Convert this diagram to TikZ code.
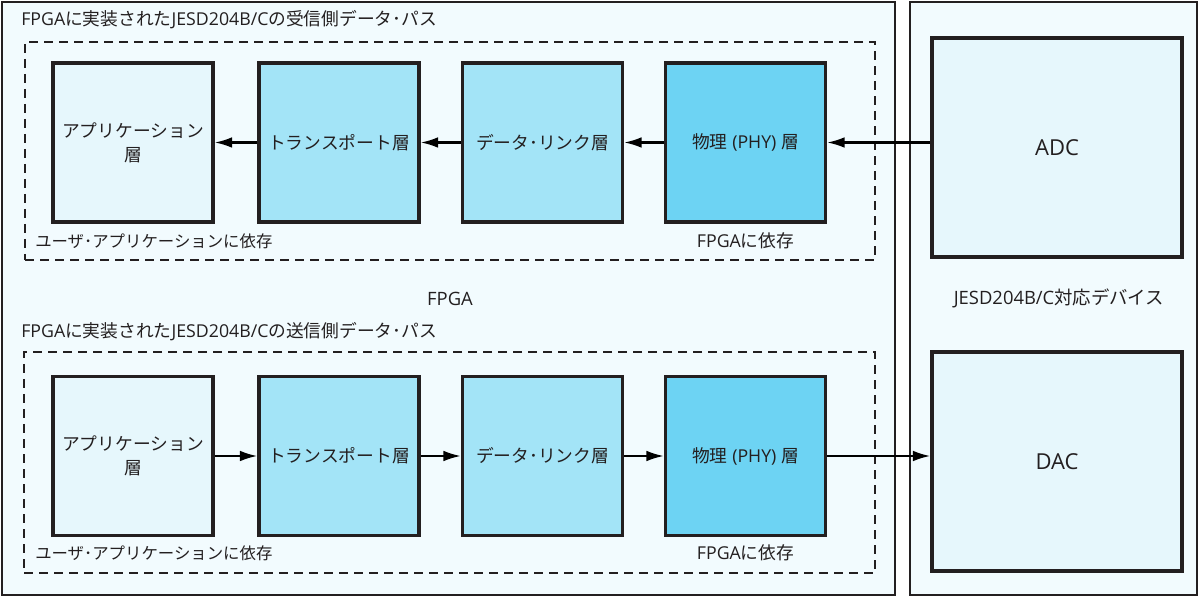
\documentclass[tikz,border=0pt]{standalone}
\usepackage{fontspec}
\setmainfont{Noto Sans CJK JP}
\newfontfamily\latf{Open Sans}
\newcommand{\en}[1]{{\latf #1}}
\usetikzlibrary{arrows.meta}
\definecolor{bgpale}{HTML}{F2FBFE}
\definecolor{apppale}{HTML}{E6F7FC}
\definecolor{midblue}{HTML}{A3E4F7}
\definecolor{phyblue}{HTML}{6DD3F3}
\definecolor{linegray}{HTML}{231F20}
\tikzset{
  frame/.style={draw=linegray, line width=2.2pt, fill=bgpale, inner sep=0pt},
  dashbox/.style={draw=linegray, line width=2pt, dash pattern=on 6.75pt off 4.5pt, inner sep=0pt},
  layerbox/.style={draw=linegray, line width=2.6pt, minimum width=120pt, minimum height=119pt, inner sep=0pt, align=center, text=linegray, font=\fontsize{13.3}{18}\selectfont},
  devbox/.style={draw=linegray, line width=2.6pt, fill=apppale, minimum width=187.5pt, minimum height=164pt, inner sep=0pt, text=linegray, font=\fontsize{16.5}{18}\selectfont},
  lbl/.style={inner sep=0pt, text=linegray, font=\fontsize{13.3}{16}\selectfont},
  userlbl/.style={inner sep=0pt, text=linegray, font=\fontsize{12.3}{16}\selectfont},
  biglbl/.style={inner sep=0pt, text=linegray, font=\fontsize{13.8}{16}\selectfont},
  conn/.style={draw=black, line width=1.6pt, -{Latex[length=13pt,width=8pt]}}
}
\begin{document}
\begin{tikzpicture}[x=0.75pt,y=-0.75pt]
\useasboundingbox (0,0) rectangle (1200,598);
% outer frames
\node[frame, minimum width=669.75pt, minimum height=444.75pt] (fpga) at (448.5,298.5) {};
\node[frame, minimum width=215.25pt, minimum height=444.75pt] (dev) at (1053.5,298.5) {};
% dashed groups
\node[dashbox, minimum width=637.5pt, minimum height=163.5pt] (rxgrp) at (450,151) {};
\node[dashbox, minimum width=638.25pt, minimum height=165.75pt] (txgrp) at (449.5,462.5) {};
% labels
\node[lbl, anchor=west] (rxtitle) at (21,20) {\en{FPGA}に実装された\en{JESD204B/C}の受信側データ･パス};
\node[lbl, anchor=west] (txtitle) at (21,332) {\en{FPGA}に実装された\en{JESD204B/C}の送信側データ･パス};
\node[biglbl] (fpgalbl) at (450,299) {\en{FPGA}};
\node[biglbl] (devlbl) at (1059,298) {\en{JESD204B/C}対応デバイス};
\node[userlbl, anchor=west] (rxuser) at (35,241) {ユーザ･アプリケーションに依存};
\node[userlbl, anchor=west] (txuser) at (35,553) {ユーザ･アプリケーションに依存};
\node[lbl] (rxdep) at (745.5,241) {\en{FPGA}に依存};
\node[lbl] (txdep) at (745.5,553) {\en{FPGA}に依存};
% receive row
\node[layerbox, fill=apppale] (rxapp) at (133,142.5) {アプリケーション\\層};
\node[layerbox, fill=midblue] (rxtr) at (339,142.5) {トランスポート層};
\node[layerbox, fill=midblue] (rxdl) at (542.5,142.5) {データ･リンク層};
\node[layerbox, fill=phyblue] (rxphy) at (745.5,142.5) {物理\en{ (PHY) }層};
% transmit row
\node[layerbox, fill=apppale] (txapp) at (133,456) {アプリケーション\\層};
\node[layerbox, fill=midblue] (txtr) at (339,456) {トランスポート層};
\node[layerbox, fill=midblue] (txdl) at (542.5,456) {データ･リンク層};
\node[layerbox, fill=phyblue] (txphy) at (745.5,456) {物理\en{ (PHY) }層};
% devices
\node[devbox] (adc) at (1057,147.5) {\en{ADC}};
\node[devbox] (dac) at (1057,461.5) {\en{DAC}};
% connectors
\draw[conn] (adc.west |- rxphy.east) -- (rxphy.east);
\draw[conn] (rxphy.west) -- (rxdl.east);
\draw[conn] (rxdl.west) -- (rxtr.east);
\draw[conn] (rxtr.west) -- (rxapp.east);
\draw[conn] (txapp.east) -- (txtr.west);
\draw[conn] (txtr.east) -- (txdl.west);
\draw[conn] (txdl.east) -- (txphy.west);
\draw[conn] (txphy.east) -- (dac.west |- txphy.east);
\end{tikzpicture}
\end{document}
